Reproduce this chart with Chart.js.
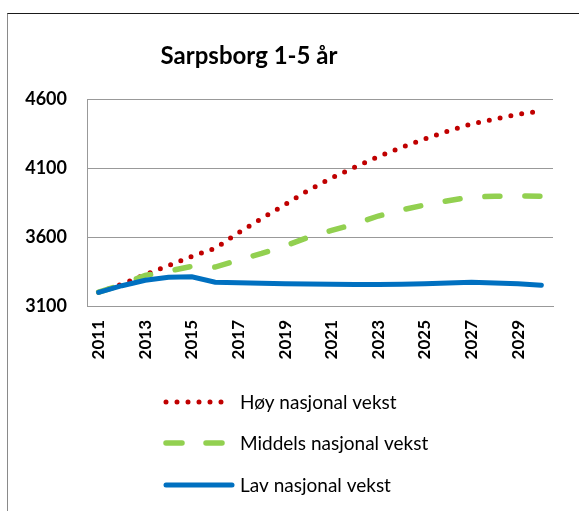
<!DOCTYPE html>
<html>
<head>
<meta charset="utf-8">
<script src="https://cdn.jsdelivr.net/npm/chart.js@4.4.1/dist/chart.umd.min.js"></script>
<style>
  html, body { margin: 0; padding: 0; background: #fff; }
  #wrap { position: relative; width: 579px; height: 511px; overflow: hidden; }
  #frame {
    position: absolute; left: 7px; top: 13px; width: 600px; height: 600px;
    border-left: 1px solid #8a8a8a; border-top: 1px solid #1a1a1a;
  }
  canvas { position: absolute; left: 0; top: 0; }
</style>
</head>
<body>
<div id="wrap">
  <div id="frame"></div>
  <canvas id="chart" width="579" height="511"></canvas>
</div>
<script>
const years = ["2011", "2012", "2013", "2014", "2015", "2016", "2017", "2018", "2019", "2020",
               "2021", "2022", "2023", "2024", "2025", "2026", "2027", "2028", "2029", "2030"];
const hoy = [3200, 3258, 3327, 3392, 3460, 3518, 3630, 3735, 3835, 3938,
             4028, 4107, 4182, 4249, 4310, 4368, 4419, 4455, 4489, 4513];
const middels = [3200, 3255, 3322, 3352, 3388, 3382, 3433, 3481, 3535, 3598,
                 3648, 3694, 3752, 3796, 3832, 3863, 3890, 3895, 3897, 3895];
const lav = [3199, 3247, 3286, 3308, 3312, 3272, 3269, 3264, 3262, 3259,
             3257, 3256, 3255, 3257, 3262, 3266, 3272, 3266, 3262, 3250];
const seriesNames = ["Høy nasjonal vekst", "Middels nasjonal vekst", "Lav nasjonal vekst"];
const titleText = "Sarpsborg 1-5 år";

const FONT = "Lato, 'Open Sans', sans-serif";

// tittel og legende tegnes selv, plassert som i originalen
const decor = {
    id: "decor",
    afterDraw(chart) {
        const ctx = chart.ctx;
        ctx.save();
        ctx.fillStyle = "#000";
        ctx.font = "bold 24px " + FONT;
        ctx.textAlign = "center";
        ctx.textBaseline = "middle";
        ctx.fillText(titleText, 249, 56);

        const rows = [402, 443, 485];
        ctx.font = "19px " + FONT;
        ctx.textAlign = "left";
        chart.data.datasets.forEach((ds, i) => {
            const y = rows[i];
            ctx.beginPath();
            ctx.strokeStyle = ds.borderColor;
            ctx.lineWidth = ds.borderWidth;
            ctx.lineCap = ds.borderCapStyle || "butt";
            ctx.setLineDash(ds.legendDash || []);
            ctx.moveTo(166, y);
            ctx.lineTo(232, y);
            ctx.stroke();
            ctx.setLineDash([]);
            ctx.fillStyle = "#000";
            ctx.fillText(ds.label, 240, y + 1);
        });
        ctx.restore();
    },
};

new Chart(document.getElementById("chart"), {
    type: "line",
    data: {
        labels: years,
        datasets: [
            {
                label: seriesNames[0],
                data: hoy,
                borderColor: "#c00000",
                borderWidth: 5,
                borderDash: [0, 11],
                borderCapStyle: "round",
                legendDash: [0, 11],
                pointRadius: 0,
                tension: 0,
                order: 2,
            },
            {
                label: seriesNames[1],
                data: middels,
                borderColor: "#92d050",
                borderWidth: 5.5,
                borderDash: [15, 25],
                borderCapStyle: "round",
                legendDash: [16, 24],
                pointRadius: 0,
                tension: 0,
                order: 1,
            },
            {
                label: seriesNames[2],
                data: lav,
                borderColor: "#0070c0",
                borderWidth: 5,
                borderCapStyle: "round",
                pointRadius: 0,
                tension: 0,
                order: 0,
            },
        ],
    },
    options: {
        responsive: false,
        animation: false,
        layout: { padding: { top: 99, left: 0, right: 26, bottom: 145 } },
        plugins: {
            legend: { display: false },
            title: { display: false },
            tooltip: { enabled: false },
        },
        scales: {
            x: {
                offset: true,
                grid: { display: false, drawTicks: false },
                border: { display: true, color: "#999", width: 1 },
                ticks: {
                    autoSkip: false,
                    maxRotation: 90,
                    minRotation: 90,
                    padding: 14,
                    color: "#000",
                    font: { family: FONT, size: 17, weight: "bold" },
                    callback: function (v, i) {
                        return i % 2 === 0 ? this.getLabelForValue(v) : "";
                    },
                },
                afterFit: (s) => { s.height = 60; },
            },
            y: {
                min: 3100,
                max: 4600,
                grid: { color: "#999", lineWidth: 1, drawTicks: false },
                border: { display: true, color: "#999", width: 1 },
                ticks: {
                    stepSize: 500,
                    padding: 20,
                    color: "#000",
                    font: { family: FONT, size: 18, weight: "bold" },
                    callback: (v) => String(v),
                },
                afterFit: (s) => { s.width = 87; },
            },
        },
    },
    plugins: [decor],
});
</script>
</body>
</html>
